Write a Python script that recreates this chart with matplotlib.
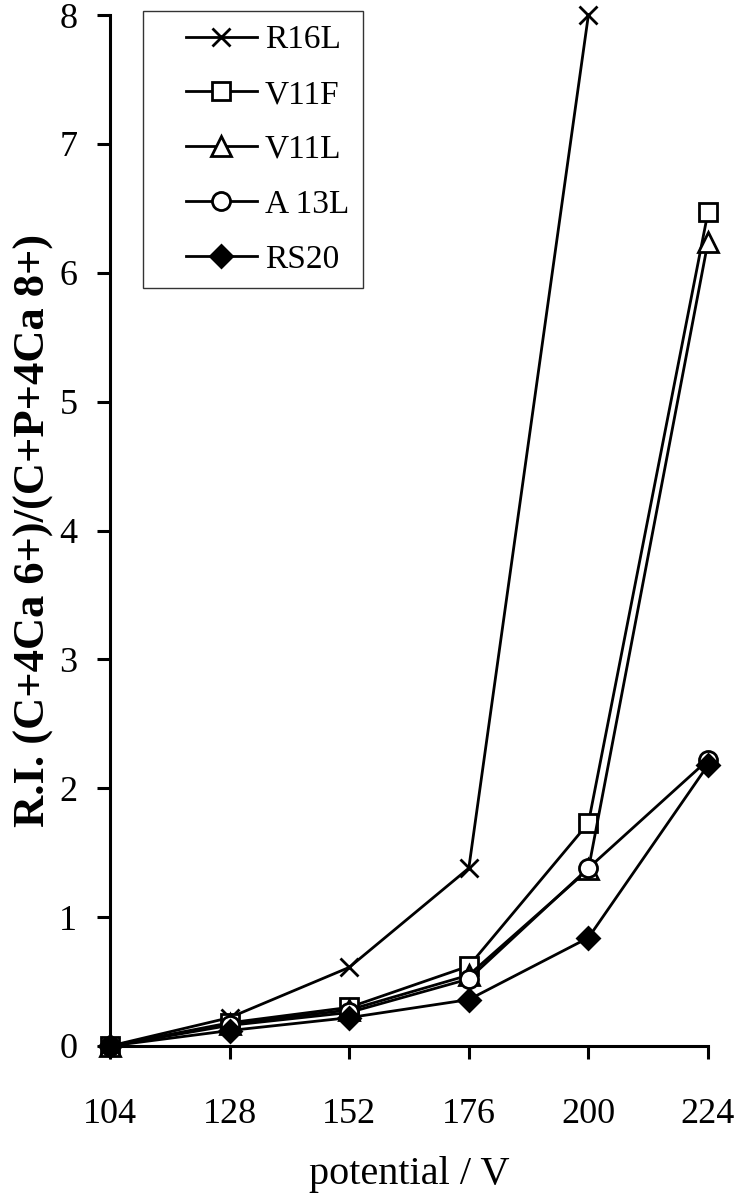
import matplotlib.pyplot as plt
from matplotlib.legend_handler import HandlerLine2D

plt.rcParams['font.family'] = ['Liberation Serif', 'DejaVu Serif']

# potential (V)
potential = [104, 128, 152, 176, 200, 224]

# R.I. values
r16l = [0.0, 0.22, 0.61, 1.38, 8.0]
v11f = [0.0, 0.18, 0.30, 0.62, 1.73, 6.47]
v11l = [0.0, 0.17, 0.28, 0.55, 1.37, 6.24]
a13l = [0.0, 0.16, 0.26, 0.52, 1.38, 2.22]
rs20 = [0.0, 0.12, 0.22, 0.36, 0.84, 2.18]

W, H = 743, 1199
fig = plt.figure(figsize=(W / 100, H / 100), dpi=100)
ax = fig.add_axes([110 / W, 1 - 1046 / H, 598 / W, 1031 / H])

style = dict(color='black', lw=2.0, mew=2.0, clip_on=False, zorder=3)
ax.plot(potential[:5], r16l, marker='x', ms=13, label='R16L', **style)
ax.plot(potential, v11f, marker='s', ms=13, mfc='white', label='V11F', **style)
ax.plot(potential, v11l, marker='^', ms=14, mfc='white', label='V11L', **style)
ax.plot(potential, a13l, marker='o', ms=13, mfc='white', label='A 13L', **style)
ax.plot(potential, rs20, marker='D', ms=11, mfc='black', label='RS20', **style)

ax.set_xlim(104, 224)
ax.set_ylim(0, 8)
ax.set_xticks(potential)
ax.set_yticks(range(0, 9))

for s in ['top', 'right']:
    ax.spines[s].set_visible(False)
for s in ['left', 'bottom']:
    ax.spines[s].set_linewidth(2.2)

ax.tick_params(axis='both', direction='out', length=9.5, width=2.2, labelsize=26)
ax.tick_params(axis='x', pad=28)
ax.tick_params(axis='y', pad=14)

ax.set_xlabel('potential / V', fontsize=29, labelpad=18)
ax.set_ylabel('R.I. (C+4Ca 6+)/(C+P+4Ca 8+)', fontsize=32, fontweight='bold', labelpad=4)

leg = ax.legend(loc='upper left', bbox_to_anchor=(143 / W, 1 - 11 / H),
                bbox_transform=fig.transFigure, borderaxespad=0, fontsize=24,
                frameon=True, fancybox=False, edgecolor='black',
                handlelength=3.0, labelspacing=0.73, borderpad=0.41,
                handletextpad=0.24, numpoints=1,
                handler_map={plt.Line2D: HandlerLine2D(xpad=0.88)})
leg.get_frame().set_linewidth(1.0)

fig.savefig('out.png', dpi=100)
